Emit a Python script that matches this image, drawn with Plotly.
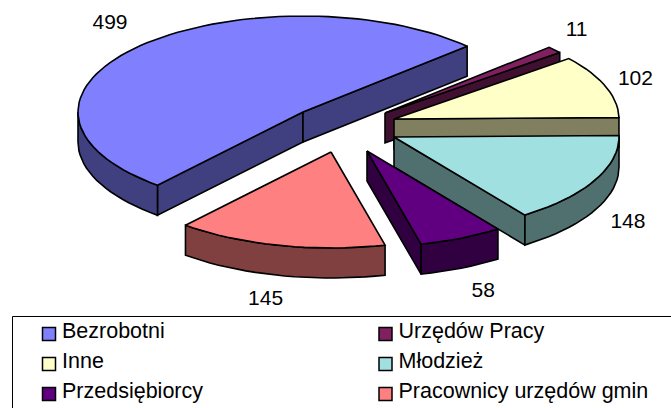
import math
import plotly.graph_objects as go

# --- data ---
categories = ["Bezrobotni", "Urzędów Pracy", "Inne", "Młodzież", "Przedsiębiorcy", "Pracownicy urzędów gmin"]
values = [499, 11, 102, 148, 58, 145]

# --- styles / layout ---
top_colors = ["#8080FF", "#802060", "#FFFFC8", "#A0E0E0", "#600080", "#FF8080"]
side_colors = ["#404080", "#401030", "#808060", "#507070", "#300040", "#804040"]
apex_px = [(303, 112), (385, 113), (394, 119), (394, 137), (367, 151), (331, 152)]
label_nudge = [(-30, -22), (22, -19), (30, -6), (33, 43), (22, 54), (-14, 54)]
draw_order = [0, 1, 2, 3, 5, 4]
legend_slots = [(49, 334), (385.5, 334), (49, 364), (385.5, 364), (49, 394), (385.5, 394)]
RX, RY, DEPTH = 225, 96, 30
START_DEG = 220.3
LINE = dict(color="black", width=1.6)
FONT = "Liberation Sans, Arial, sans-serif"

total = sum(values)
spans = []
a = START_DEG
for v in values:
    spans.append((a, a + v / total * 360))
    a += v / total * 360


def rim(i, deg):
    t = math.radians(deg)
    ax, ay = apex_px[i]
    return ax + RX * math.sin(t), ay - RY * math.cos(t)


def arc(i, a0, a1):
    n = max(2, int(abs(a1 - a0) / 2.5) + 1)
    return [rim(i, a0 + (a1 - a0) * k / (n - 1)) for k in range(n)]


def poly(fig, pts, color):
    xs = [p[0] for p in pts] + [pts[0][0]]
    ys = [p[1] for p in pts] + [pts[0][1]]
    fig.add_trace(go.Scatter(x=xs, y=ys, mode="lines", fill="toself", fillcolor=color,
                             line=LINE, hoverinfo="skip", showlegend=False))


def wall(fig, pts, color):
    poly(fig, pts + [(x, y + DEPTH) for x, y in reversed(pts)], color)


fig = go.Figure()

for i in draw_order:
    a0, a1 = spans[i]
    ap = apex_px[i]
    if math.sin(math.radians(a0)) < 0:      # leading cut face looks towards the viewer
        wall(fig, [ap, rim(i, a0)], side_colors[i])
    if math.sin(math.radians(a1)) > 0:      # trailing cut face looks towards the viewer
        wall(fig, [ap, rim(i, a1)], side_colors[i])
    turn = 360 if a0 >= 360 else 0
    lo, hi = max(a0 - turn, 90), min(a1 - turn, 270)   # rim portion on the front of the ellipse
    if lo < hi:
        wall(fig, arc(i, lo, hi), side_colors[i])
    poly(fig, [ap] + arc(i, a0, a1), top_colors[i])

# value labels
lx, ly = [], []
for i in range(len(values)):
    x, y = rim(i, sum(spans[i]) / 2)
    lx.append(x + label_nudge[i][0])
    ly.append(y + label_nudge[i][1])
fig.add_trace(go.Scatter(x=lx, y=ly, mode="text", text=[str(v) for v in values],
                         textposition="middle center",
                         textfont=dict(family=FONT, size=21, color="black"),
                         hoverinfo="skip", showlegend=False))

# legend
fig.add_shape(type="rect", xref="x", yref="y", x0=12.5, x1=700, y0=316.5, y1=440,
              line=dict(color="black", width=1), fillcolor="rgba(0,0,0,0)", layer="below")
fig.add_trace(go.Scatter(x=[s[0] for s in legend_slots], y=[s[1] for s in legend_slots],
                         mode="markers",
                         marker=dict(symbol="square", size=13, color=top_colors,
                                     line=dict(color="black", width=1.5)),
                         hoverinfo="skip", showlegend=False))
fig.add_trace(go.Scatter(x=[s[0] + 13 for s in legend_slots], y=[s[1] - 1.5 for s in legend_slots],
                         mode="text", text=categories, textposition="middle right",
                         textfont=dict(family=FONT, size=21.5, color="black"),
                         hoverinfo="skip", showlegend=False))

fig.update_layout(
    width=671, height=408, margin=dict(l=0, r=0, t=0, b=0),
    paper_bgcolor="white", plot_bgcolor="white", showlegend=False,
    xaxis=dict(range=[0, 671], visible=False, fixedrange=True),
    yaxis=dict(range=[408, 0], visible=False, fixedrange=True),
)
fig.write_html("out.html", config={"displayModeBar": False},
               default_width="671px", default_height="408px",
               post_script="document.body.style.margin='0';document.documentElement.style.overflow='hidden';")
